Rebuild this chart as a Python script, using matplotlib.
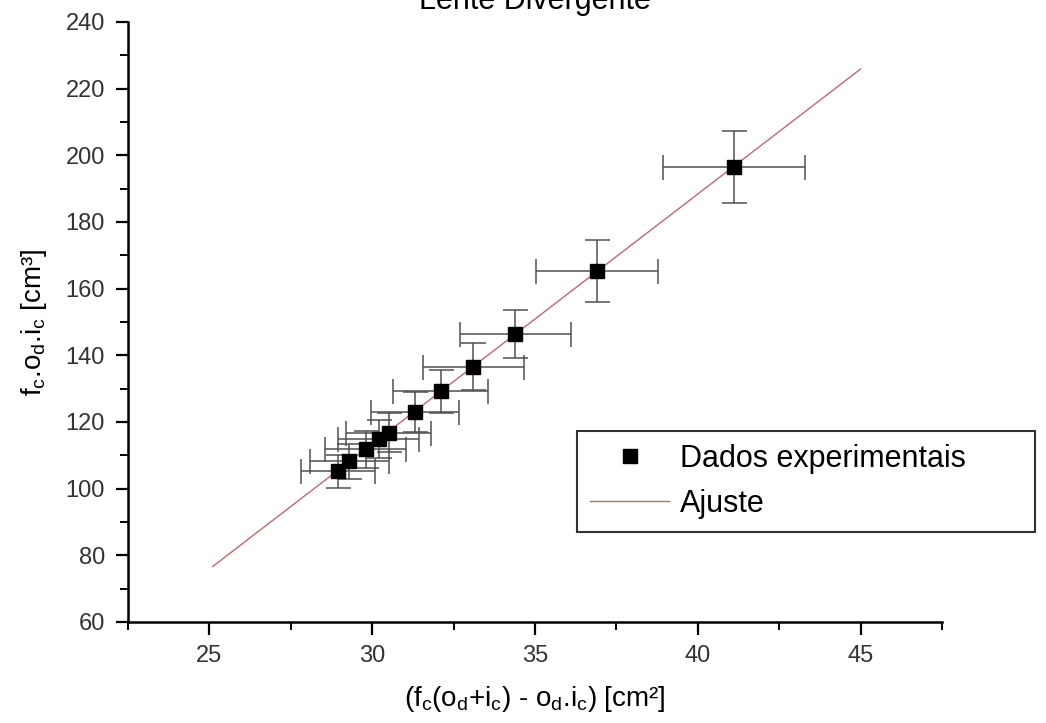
import numpy as np
import matplotlib
matplotlib.use("Agg")
import matplotlib.pyplot as plt
from matplotlib.ticker import MultipleLocator

plt.rcParams['font.family'] = ['Liberation Sans', 'DejaVu Sans']
plt.rcParams['mathtext.fontset'] = 'custom'
plt.rcParams['mathtext.rm'] = 'Liberation Sans'
plt.rcParams['mathtext.it'] = 'Liberation Sans'

# experimental points: x = f_c(o_d+i_c) - o_d.i_c, y = f_c.o_d.i_c
x_vals = [28.95, 29.3, 29.8, 30.2, 30.5, 31.3, 32.1, 33.1, 34.4, 36.9, 41.1]
y_vals = [105.2, 108.2, 111.8, 114.8, 116.8, 123.0, 129.2, 136.6, 146.4, 165.2, 196.5]
x_err = [1.15, 1.2, 1.25, 1.25, 1.3, 1.35, 1.45, 1.55, 1.7, 1.87, 2.18]
y_err = [5.0, 5.2, 5.5, 5.7, 5.8, 6.1, 6.5, 7.1, 7.3, 9.3, 10.8]

# linear fit
fit_slope = 7.5
fit_intercept = -111.6
fit_x = [25.1, 45.0]

fig = plt.figure(figsize=(10.46, 7.23), dpi=100)
ax = fig.add_axes([0.1224, 0.1397, 0.7782, 0.8299])

ax.errorbar(x_vals, y_vals, xerr=x_err, yerr=y_err, fmt='none',
            ecolor='#505050', elinewidth=1.1, capsize=9, capthick=1.1, zorder=2)
fx = np.array(fit_x)
ax.plot(fx, fit_slope * fx + fit_intercept, color='#bf6a6a', lw=1.0,
        label='Ajuste', zorder=3)
ax.plot(x_vals, y_vals, 's', color='black', markersize=9.5, ls='none',
        label='Dados experimentais', zorder=4)

ax.set_xlim(22.5, 47.5)
ax.set_ylim(60, 240)
ax.xaxis.set_major_locator(MultipleLocator(5))
ax.xaxis.set_minor_locator(MultipleLocator(2.5))
ax.yaxis.set_major_locator(MultipleLocator(20))
ax.yaxis.set_minor_locator(MultipleLocator(10))

for s in ['top', 'right']:
    ax.spines[s].set_visible(False)
for s in ['left', 'bottom']:
    ax.spines[s].set_linewidth(1.8)
ax.tick_params(which='major', direction='out', length=9, width=1.6,
               labelsize=17, labelcolor='#333333', pad=7.5)
ax.tick_params(which='minor', direction='out', length=5.5, width=1.4)

ax.set_xlabel(r'($\mathregular{f_c}$($\mathregular{o_d}$+$\mathregular{i_c}$) - '
              r'$\mathregular{o_d}$.$\mathregular{i_c}$) [cm²]',
              fontsize=20, labelpad=12)
ax.set_ylabel(r'$\mathregular{f_c}$.$\mathregular{o_d}$.$\mathregular{i_c}$ [cm³]',
              fontsize=20, labelpad=12)
ax.set_title('Lente Divergente', fontsize=22, pad=9)

h, l = ax.get_legend_handles_labels()
leg = ax.legend(h[::-1], l[::-1], loc='lower left',
                bbox_to_anchor=(0.5516, 0.15, 0.5626, 0.168), mode='expand',
                fontsize=22, frameon=True, fancybox=False, edgecolor='black',
                borderaxespad=0, borderpad=0.42, handlelength=2.6,
                handletextpad=0.35, labelspacing=0.5)
leg.get_frame().set_linewidth(1.5)
leg.set_clip_on(False)

fig.savefig('out.png', dpi=100)
